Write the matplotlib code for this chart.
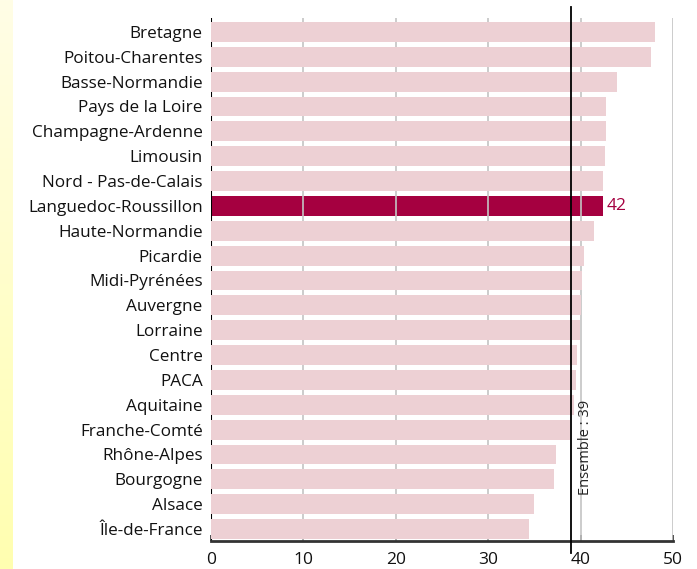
import matplotlib
matplotlib.use("Agg")
import matplotlib.pyplot as plt
import numpy as np
from matplotlib.colors import LinearSegmentedColormap

regions = ["Bretagne", "Poitou-Charentes", "Basse-Normandie", "Pays de la Loire",
           "Champagne-Ardenne", "Limousin", "Nord - Pas-de-Calais",
           "Languedoc-Roussillon", "Haute-Normandie", "Picardie", "Midi-Pyrénées",
           "Auvergne", "Lorraine", "Centre", "PACA", "Aquitaine", "Franche-Comté",
           "Rhône-Alpes", "Bourgogne", "Alsace", "Île-de-France"]
values = [48.0, 47.6, 43.9, 42.8, 42.8, 42.6, 42.4, 42.4, 41.4, 40.4, 40.2,
          40.0, 39.9, 39.6, 39.5, 39.3, 38.9, 37.3, 37.1, 35.0, 34.4]
highlight = "Languedoc-Roussillon"
highlight_label = "42"
ensemble = 39
ensemble_label = "Ensemble : 39"
xticks = [0, 10, 20, 30, 40, 50]

plt.rcParams['font.family'] = ['Open Sans', 'DejaVu Sans']

fig = plt.figure(figsize=(6.97, 5.69), dpi=100)
fig.patch.set_facecolor('white')

# yellow strip on the left
strip = fig.add_axes([0, 0, 13/697, 1])
grad = np.linspace(0, 1, 256).reshape(-1, 1)
cm = LinearSegmentedColormap.from_list("y", ["#FFFDE6", "#FFFFB0"])
strip.imshow(grad, aspect='auto', cmap=cm, extent=[0, 1, 0, 1], origin='upper')
strip.axis('off')

ax = fig.add_axes([211/697, 1 - 541/569, 462/697, 523/569])
y = np.arange(len(regions))
pink = "#EDD0D4"
crimson = "#A50040"

for i, (r, v) in enumerate(zip(regions, values)):
    if r == highlight:
        ax.barh(i, v, height=0.8, color=crimson, zorder=1.5)
        ax.text(v + 0.45, i, highlight_label, color=crimson, fontsize=12.5,
                va='center', ha='left')
    else:
        ax.barh(i, v, height=0.8, color=pink, zorder=3)

for t in xticks[1:]:
    ax.axvline(t, color="#C4C4C4", lw=1.2, zorder=2)
ax.axvline(0, color="black", lw=1.5, zorder=2)

ax.set_xlim(0, 50)
ax.set_ylim(20.48, -0.56)
ax.set_yticks(y)
ax.set_yticklabels(regions, fontsize=12.3, color="#111111")
ax.tick_params(axis='y', length=0, pad=6)
ax.set_xticks(xticks)
ax.set_xticklabels([str(t) for t in xticks], fontsize=12.5, color="#111111")
ax.tick_params(axis='x', direction='in', length=4, width=1.2, color="#333333", pad=8)

for s in ['top', 'right', 'left']:
    ax.spines[s].set_visible(False)
ax.spines['bottom'].set_color("#333333")
ax.spines['bottom'].set_linewidth(2)

# ensemble line
ax.plot([ensemble, ensemble], [-1.0, 20.95], color="black", lw=1.3, zorder=5,
        clip_on=False)
ax.text(ensemble + 1.5, 16.7, ensemble_label, rotation=90, fontsize=10.5,
        va='center', ha='center', color="#222222")

fig.savefig("out.png", dpi=100)
